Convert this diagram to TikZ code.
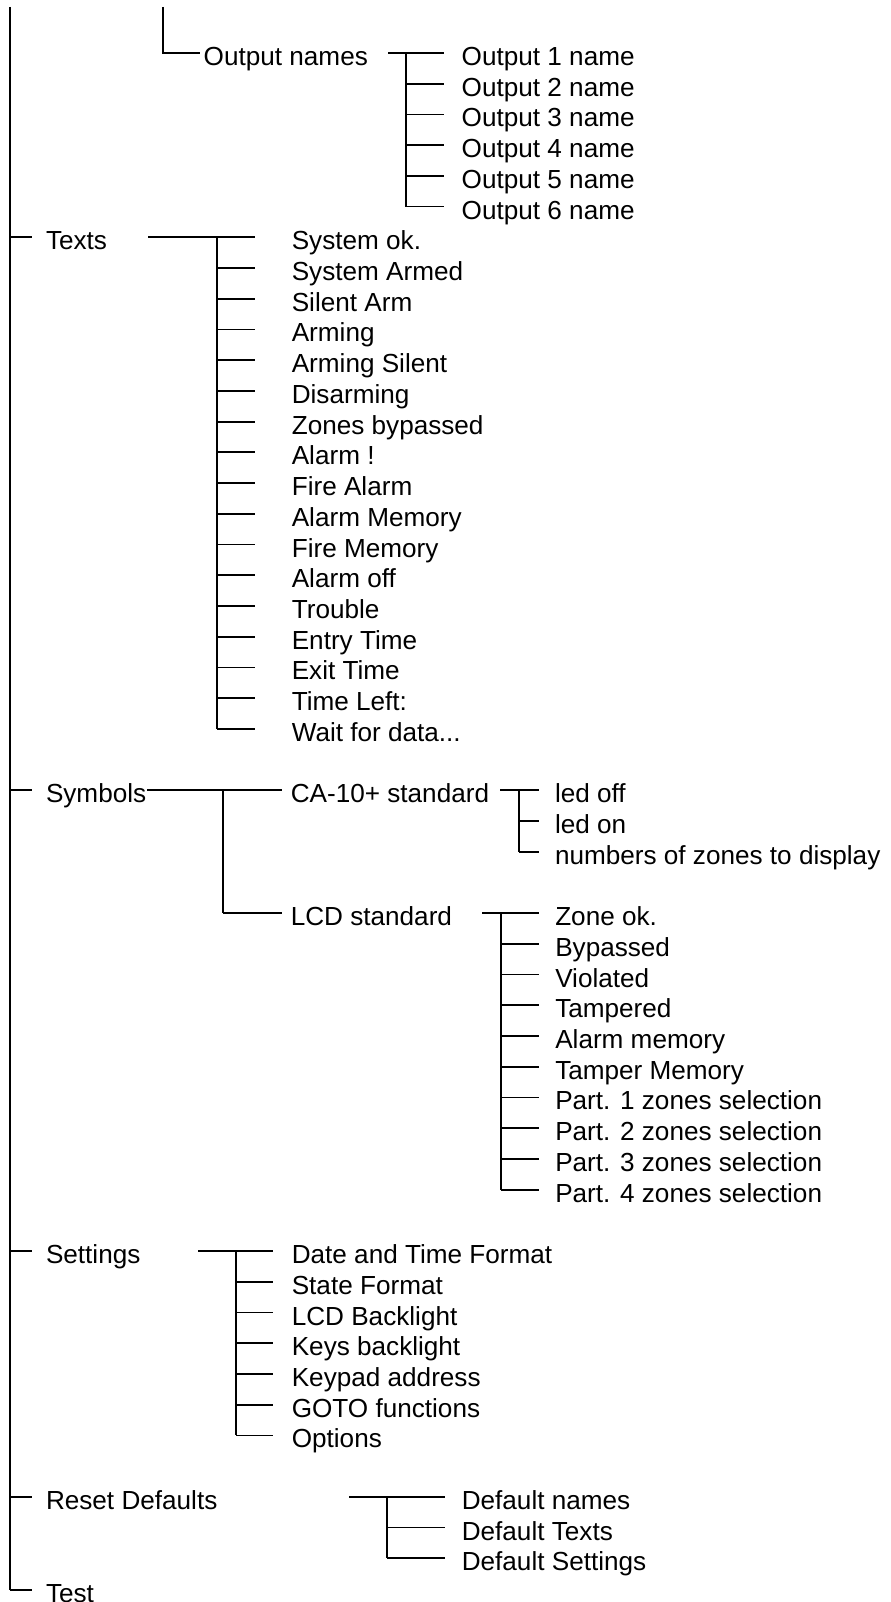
\documentclass[tikz,border=0pt]{standalone}
\usepackage{fontspec}
\setmainfont{Liberation Sans}
\newcommand\waitdatatxt{Wait for data...}
\begin{document}
\begin{tikzpicture}[x=0.75pt,y=-0.75pt,
  hln/.style={line width=1.3pt},
  vln/.style={line width=1.45pt},
  mainln/.style={line width=1.6pt},
  lbl/.style={font=\fontsize{19.6pt}{23pt}\selectfont, anchor=west, inner ysep=0pt,
    inner xsep=#1, text height=23.25pt, text depth=4.5pt},
  lbl/.default=0pt]
\useasboundingbox (0,0) rectangle (890,1602);

% ---------- main trunk ----------
\coordinate (top) at (10,7);
\coordinate (mt) at (10,1590);
\node[lbl=10.3pt] (texts) at (32,237.32) {Texts};
\node[lbl=10.3pt] (symb) at (32,790.28) {Symbols};
\node[lbl=10.3pt] (sett) at (32,1251.08) {Settings};
\node[lbl=10.3pt] (reset) at (32,1496.84) {Reset Defaults};
\node[lbl=10.3pt] (test) at (32,1590) {Test};
\draw[mainln] (top) -- (mt);
\foreach \n in {texts,symb,sett,reset}{\draw[hln] (top |- \n.west) -- (\n.west);}
\draw[hln] (mt) -- (test.west);

% ---------- Output names ----------
\coordinate (otop) at (163,7);
\node[lbl=2.6pt] (outn) at (200,53) {Output names};
\draw[vln] (otop) -- (otop |- outn.west) -- (outn.west);
\coordinate (os) at (388,53);
\coordinate (jo) at (406,53);
\foreach \t [count=\i from 0] in {Output 1 name,Output 2 name,Output 3 name,Output 4 name,Output 5 name,Output 6 name}{
  \node[lbl=13.1pt] (o\i) at (444,{53+30.72*\i}) {\t};
  \draw[hln] (jo |- o\i.west) -- (o\i.west);
}
\draw[hln] (os) -- (jo);
\draw[vln] (jo) -- (jo |- o5.west);

% ---------- Texts ----------
\coordinate (ts) at (148,237.32);
\coordinate (jt) at (217,237.32);
\foreach \t [count=\i from 0] in {System ok.,System Armed,Silent Arm,Arming,Arming Silent,Disarming,Zones bypassed,Alarm !,Fire Alarm,Alarm Memory,Fire Memory,Alarm off,Trouble,Entry Time,Exit Time,Time Left:,{\waitdatatxt}}{
  \node[lbl=27.4pt] (t\i) at (255,{237.32+30.72*\i}) {\t};
  \draw[hln] (jt |- t\i.west) -- (t\i.west);
}
\draw[hln] (ts) -- (jt);
\draw[vln] (jt) -- (jt |- t16.west);

% ---------- Symbols ----------
\coordinate (sys) at (147,790.28);
\coordinate (js) at (223,790.28);
\node[lbl=6.4pt] (ca) at (282,790.28) {CA-10+ standard};
\node[lbl=6.4pt] (lcd) at (282,913.16) {LCD standard};
\draw[hln] (sys) -- (ca.west);
\draw[vln] (js) -- (js |- lcd.west);
\draw[hln] (js |- lcd.west) -- (lcd.west);

% CA-10+ standard
\coordinate (cs) at (500,790.28);
\coordinate (jc) at (519,790.28);
\foreach \t [count=\i from 0] in {led off,led on,numbers of zones to display}{
  \node[lbl=11.8pt] (c\i) at (539,{790.28+30.72*\i}) {\t};
  \draw[hln] (jc |- c\i.west) -- (c\i.west);
}
\draw[hln] (cs) -- (jc);
\draw[vln] (jc) -- (jc |- c2.west);

% LCD standard
\coordinate (ls) at (482,913.16);
\coordinate (jl) at (501,913.16);
\foreach \t [count=\i from 0] in {Zone ok.,Bypassed,Violated,Tampered,Alarm memory,Tamper Memory,Part. 1 zones selection,Part. 2 zones selection,Part. 3 zones selection,Part. 4 zones selection}{
  \node[lbl=12pt] (l\i) at (539,{913.16+30.72*\i}) {\t};
  \draw[hln] (jl |- l\i.west) -- (l\i.west);
}
\draw[hln] (ls) -- (jl);
\draw[vln] (jl) -- (jl |- l9.west);

% ---------- Settings ----------
\coordinate (ss) at (198,1251.08);
\coordinate (jse) at (236,1251.08);
\foreach \t [count=\i from 0] in {Date and Time Format,State Format,LCD Backlight,Keys backlight,Keypad address,GOTO functions,Options}{
  \node[lbl=13.9pt] (s\i) at (273,{1251.08+30.72*\i}) {\t};
  \draw[hln] (jse |- s\i.west) -- (s\i.west);
}
\draw[hln] (ss) -- (jse);
\draw[vln] (jse) -- (jse |- s6.west);

% ---------- Reset Defaults ----------
\coordinate (rs) at (349,1496.84);
\coordinate (jr) at (387,1496.84);
\foreach \t [count=\i from 0] in {Default names,Default Texts,Default Settings}{
  \node[lbl=12.4pt] (r\i) at (445,{1496.84+30.72*\i}) {\t};
  \draw[hln] (jr |- r\i.west) -- (r\i.west);
}
\draw[hln] (rs) -- (jr);
\draw[vln] (jr) -- (jr |- r2.west);
\end{tikzpicture}
\end{document}
